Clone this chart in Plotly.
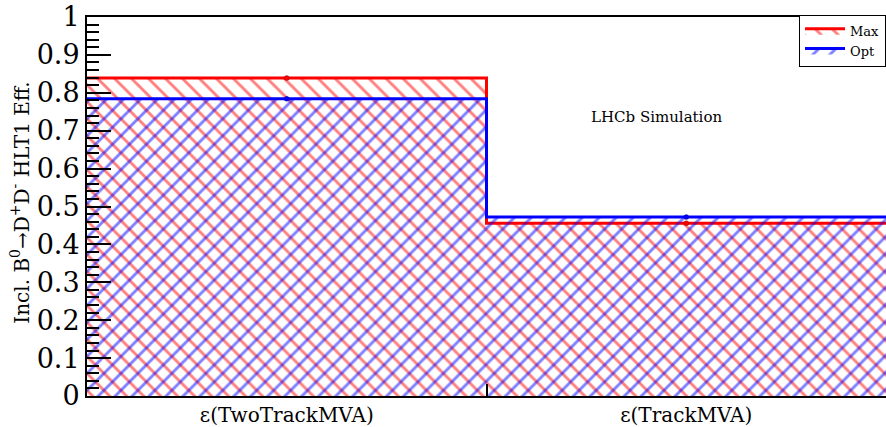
import numpy as np
import plotly.graph_objects as go

# Bin labels and per-trigger-line efficiencies
bin_labels = ["ε(TwoTrackMVA)", "ε(TrackMVA)"]
eff_max = [0.839, 0.456]
eff_opt = [0.784, 0.472]
err_max = [0.003, 0.003]
err_opt = [0.003, 0.003]

SERIF = "DejaVu Serif"

edges = np.arange(len(bin_labels) + 1)
centers = edges[:-1] + 0.5


def step_y(vals):
    return list(vals) + [vals[-1]]


fig = go.Figure()

series = [
    ("Max", eff_max, err_max, "#ff0000", "\\"),
    ("Opt", eff_opt, err_opt, "#0000ff", "/"),
]

for name, vals, errs, color, hatch in series:
    # hatched histogram body with its step outline
    fig.add_trace(go.Scatter(
        x=edges, y=step_y(vals), mode="lines", line_shape="hv",
        line=dict(color=color, width=3),
        fill="tozeroy", fillcolor="rgba(0,0,0,0)",
        fillpattern=dict(shape=hatch, fgcolor=color, bgcolor="rgba(0,0,0,0)",
                         size=12, solidity=0.24, fillmode="overlay"),
        name=name, legendgroup=name, showlegend=True,
    ))
    # bin-centre markers with statistical errors
    fig.add_trace(go.Scatter(
        x=centers, y=vals, mode="markers",
        marker=dict(color=color, size=5, line=dict(color="rgba(0,0,0,0.5)", width=0.5)),
        error_y=dict(type="data", array=errs, color=color, thickness=1, width=0),
        name=name, legendgroup=name, showlegend=False,
    ))

fig.add_annotation(
    text="LHCb Simulation", x=0.713, y=0.736, xref="paper", yref="paper",
    xanchor="center", yanchor="middle",
    showarrow=False, font=dict(family=SERIF, size=15, color="black"),
)

fig.add_annotation(
    text="Incl. B<sup>0</sup>→D<sup>+</sup>D<sup>-</sup> HLT1 Eff.",
    x=-0.0839, y=0.51, xref="paper", yref="paper", textangle=-90,
    xanchor="center", yanchor="middle",
    showarrow=False, font=dict(family=SERIF, size=20, color="black"),
)

fig.update_layout(
    width=886, height=427,
    margin=dict(l=87, r=0, t=17, b=31, autoexpand=False),
    paper_bgcolor="white", plot_bgcolor="white",
    showlegend=True,
    legend=dict(
        x=1, y=1.006, xanchor="right", yanchor="top",
        bgcolor="white", bordercolor="black", borderwidth=1,
        font=dict(family=SERIF, size=13, color="black"),
        tracegroupgap=0, itemwidth=40,
    ),
    xaxis=dict(
        range=[0, 2], showgrid=False, zeroline=False, automargin=False,
        showline=True, linecolor="black", linewidth=2, mirror=True,
        tickmode="array", tickvals=centers, ticktext=bin_labels,
        ticks="", tickfont=dict(family=SERIF, size=20, color="black"),
        minor=dict(tickmode="array", tickvals=edges[1:-1], ticks="inside",
                   ticklen=12, tickcolor="black", tickwidth=1.5, showgrid=False),
    ),
    yaxis=dict(
        range=[0, 1], showgrid=False, zeroline=False, automargin=False,
        showline=True, linecolor="black", linewidth=2, mirror=False,
        dtick=0.1, tick0=0, ticks="inside", ticklen=24, tickwidth=1.5,
        tickcolor="black",
        tickfont=dict(family=SERIF, size=27, color="black"),
        minor=dict(dtick=0.02, ticks="inside", ticklen=12, tickwidth=1.5,
                   tickcolor="black", showgrid=False),
    ),
)

fig.write_html("out.html")
